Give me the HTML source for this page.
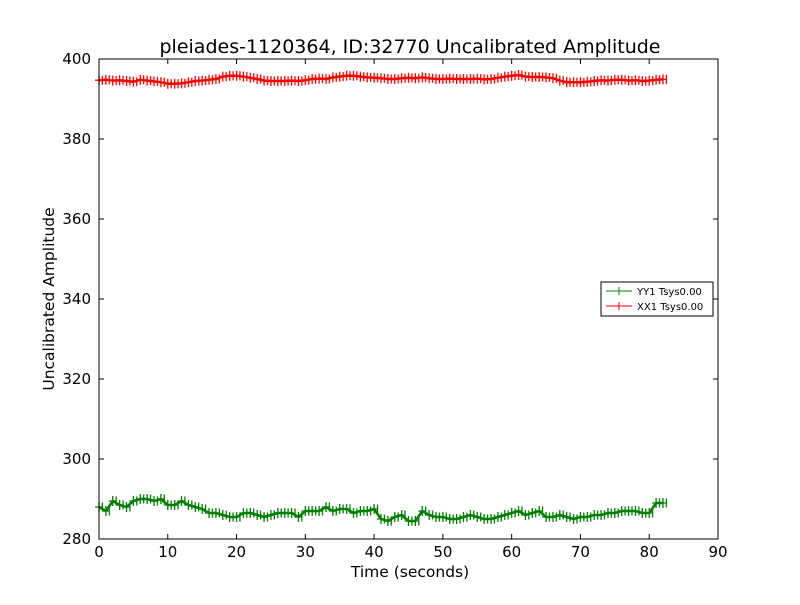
<!DOCTYPE html>
<html><head><meta charset="utf-8"><style>body{margin:0;background:#fff}svg{font-family:"DejaVu Sans","Liberation Sans",sans-serif}</style></head>
<body>
<svg id="c" width="800" height="600">
<rect x="0" y="0" width="800" height="600" fill="#fff"/>
<text x="410" y="53" text-anchor="middle" font-size="19">pleiades-1120364, ID:32770 Uncalibrated Amplitude</text>
<g id="series"></g>
<rect x="99" y="59" width="619" height="480" fill="none" stroke="#000"/>
<g id="ticks" font-size="15"></g>
<text x="410" y="577" text-anchor="middle" font-size="15.5">Time (seconds)</text>
<text transform="translate(54,299) rotate(-90)" text-anchor="middle" font-size="15.5">Uncalibrated Amplitude</text>
<g>
<rect x="601" y="282" width="112" height="34" fill="#fff" stroke="#000"/>
<line x1="606" y1="291" x2="632" y2="291" stroke="green"/><line x1="619" y1="287" x2="619" y2="295" stroke="green"/>
<text x="637" y="295" font-size="10">YY1 Tsys0.00</text>
<line x1="606" y1="306" x2="632" y2="306" stroke="red"/><line x1="619" y1="302" x2="619" y2="310" stroke="red"/>
<text x="637" y="310" font-size="10">XX1 Tsys0.00</text>
</g>
</svg>
<script>
const times=[];for(let i=0;i<=82;i++)times.push(i);
const xx1=[394.7,394.8,394.6,394.7,394.5,394.3,394.8,394.6,394.4,394.2,393.8,393.8,393.9,394.2,394.5,394.6,394.8,395.0,395.6,395.8,395.8,395.6,395.3,395.0,394.6,394.5,394.5,394.5,394.6,394.5,394.7,395.0,395.1,395.0,395.4,395.6,395.8,395.8,395.6,395.4,395.3,395.2,395.0,395.0,395.2,395.3,395.2,395.4,395.2,395.0,395.0,395.1,395.0,395.0,395.0,395.1,394.9,395.0,395.3,395.6,395.8,396.0,395.6,395.5,395.5,395.4,395.2,394.6,394.2,394.2,394.2,394.3,394.5,394.7,394.6,394.8,394.8,394.6,394.7,394.5,394.6,394.8,394.9];
const yy1=[288,287,289.5,288.5,288,289.5,290,290,289.5,290,288.5,288.5,289.5,288.5,288,287.5,286.5,286.5,286,285.5,285.5,286.5,286.5,286,285.5,286,286.5,286.5,286.5,285.5,287,287,287,288,287,287.5,287.5,286.5,287,287,287.5,285,284.5,285.5,286,284.5,284.5,287,286,285.5,285.5,285,285,285.5,286,285.5,285,285,285.5,286,286.5,287,286,286.5,287,285.5,285.5,286,285.5,285,285.5,285.5,286,286,286.5,286.5,287,287,287,286.5,286.5,289,289];
const xTicks=[0,10,20,30,40,50,60,70,80,90];
const yTicks=[280,300,320,340,360,380,400];
const NS="http://www.w3.org/2000/svg";
const X=v=>99+v*(619/90), Y=v=>539-(v-280)*4;
function mk(t,a,p){const e=document.createElementNS(NS,t);for(const k in a)e.setAttribute(k,a[k]);p.appendChild(e);return e;}
const s=document.getElementById('series');
function draw(vals,col,name){
  const g=mk('g',{},s);
  
  
  mk('polyline',{points:vals.map((v,i)=>X(times[i])+','+Y(v)).join(' '),fill:'none',stroke:col,'stroke-width':2.5},g);
  let d='';vals.forEach((v,i)=>{const x=X(times[i]),y=Y(v);d+=`M${x-4},${y}h8M${x},${y-5}v10M${x+3.4},${y-4.5}v9`;});
  mk('path',{d:d,stroke:col,'stroke-width':1.3,fill:'none'},g);
}
draw(yy1,'green','series-yy1');draw(xx1,'red','series-xx1');
const t=document.getElementById('ticks');
xTicks.forEach(v=>{const x=X(v);mk('path',{d:`M${x},539v-5M${x},59v5`,stroke:'#000'},t);
 const e=mk('text',{x:x,y:557,'text-anchor':'middle'},t);e.textContent=v;
 
 });
yTicks.forEach(v=>{const y=Y(v);mk('path',{d:`M99,${y}h5M718,${y}h-5`,stroke:'#000'},t);
 const e=mk('text',{x:91,y:y+5,'text-anchor':'end'},t);e.textContent=v;
 
 });
</script>
</body></html>
